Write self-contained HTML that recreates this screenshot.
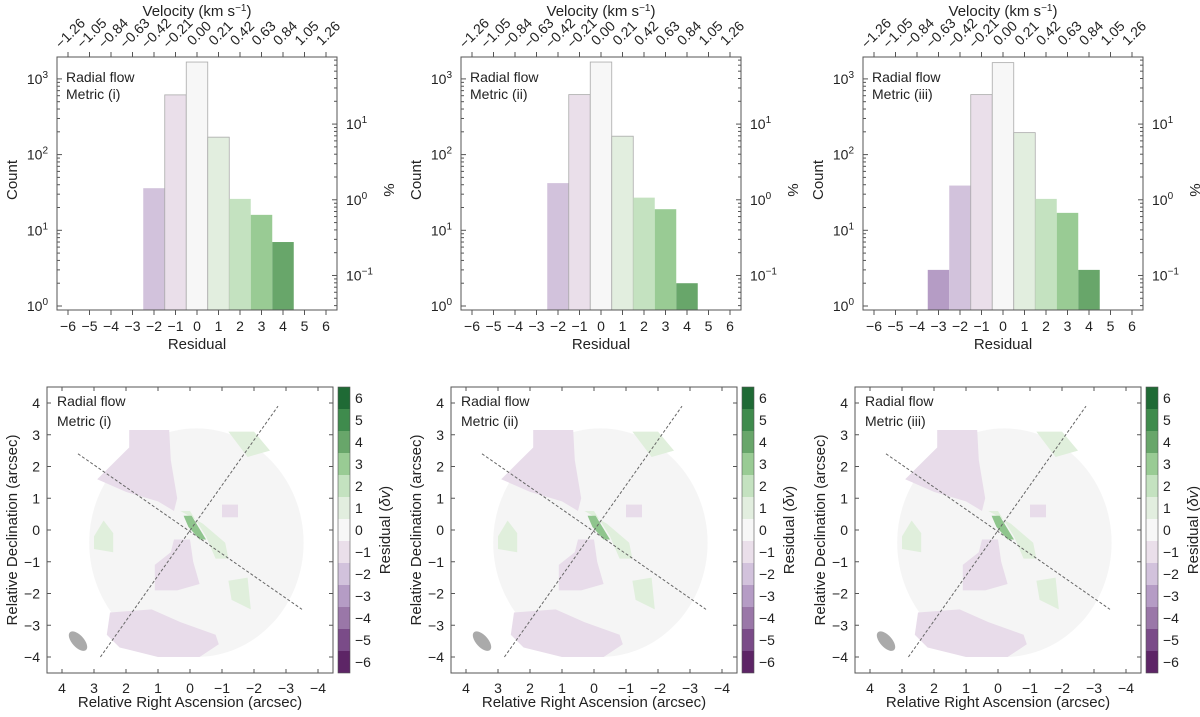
<!DOCTYPE html>
<html><head><meta charset="utf-8"><style>
body{margin:0;background:#fff}
svg{display:block;font-family:"Liberation Sans",sans-serif}
text{fill:#222}
</style></head><body>
<svg id="s" width="1200" height="717" viewBox="0 0 1200 717" xmlns="http://www.w3.org/2000/svg"></svg>
<script>
const residualBins=[-6,-5,-4,-3,-2,-1,0,1,2,3,4,5,6];
const velocityLabels=["−1.26","−1.05","−0.84","−0.63","−0.42","−0.21","0.00","0.21","0.42","0.63","0.84","1.05","1.26"];
const panelTitles=["Metric (i)","Metric (ii)","Metric (iii)"];
const countsI=[0,0,0,0,36,615,1670,170,26,16,7,0,0];
const countsII=[0,0,0,0,42,620,1670,175,27,19,2,0,0];
const countsIII=[0,0,0,3,39,620,1640,195,26,17,3,0,0];
const allCounts=[countsI,countsII,countsIII];
const totalCount=2530;
const colors={"-6":"#5d2566","-5":"#7a4b88","-4":"#9a77a8","-3":"#b59cc5","-2":"#d2c2dc","-1":"#eadfea","0":"#f7f7f7","1":"#e2eedf","2":"#c4e2c0","3":"#99cb94","4":"#68a66a","5":"#3f8b4d","6":"#1f6a35"};
const NS="http://www.w3.org/2000/svg";
const S=document.getElementById('s');
function el(t,a,p){const e=document.createElementNS(NS,t);for(const k in a)e.setAttribute(k,a[k]);(p||S).appendChild(e);return e;}
function txt(x,y,s,a,p){const e=el('text',Object.assign({x:x,y:y,'font-size':14},a||{}),p);e.innerHTML=s;return e;}
const offsets=[0,404,806];
offsets.forEach((ox,pi)=>{
  const g=el('g',{transform:`translate(${ox},0)`});
  
  
  const L=57,R=337,T=57,B=310;
  const xs=v=>197+v*21.5;
  const ys=c=>306-Math.log10(c)*75.7;
  allCounts[pi].forEach((c,i)=>{
    if(c<=0)return;
    const b=residualBins[i];
    const r=el('rect',{x:xs(b-0.5),y:ys(c),width:21.5,height:B-ys(c),fill:colors[b],stroke:(b>=-1&&b<=1)?'#aaa':'none','stroke-width':0.8},g);
    
    
  });
  el('rect',{x:L,y:T,width:R-L,height:B-T,fill:'none',stroke:'#555','stroke-width':1},g);
  residualBins.forEach((b,i)=>{
    el('line',{x1:xs(b),x2:xs(b),y1:B,y2:B+5,stroke:'#555'},g);
    el('line',{x1:xs(b),x2:xs(b),y1:T,y2:T-5,stroke:'#555'},g);
    txt(xs(b),B+21,b<0?'−'+(-b):''+b,{'text-anchor':'middle'},g);
    const cx=xs(b)+2, cy=T-24;
    txt(cx,cy+5,velocityLabels[i],{transform:`rotate(-45 ${cx} ${cy})`,'font-size':14,'text-anchor':'middle'},g);
  });
  for(let d=0;d<=3;d++){
    for(let m=1;m<10;m++){const y=ys(m*Math.pow(10,d));if(y<T)continue;el('line',{x1:L,x2:L+(m==1?5:3),y1:y,y2:y,stroke:'#555'},g);}
    txt(48,ys(Math.pow(10,d))+5,'10<tspan dy="-6" font-size="10">'+d+'</tspan>',{'text-anchor':'end'},g);
  }
  const yp=p=>ys(p/100*totalCount);
  for(let d=-2;d<=1;d++){for(let m=1;m<10;m++){const y=yp(m*Math.pow(10,d));if(y<T||y>B)continue;el('line',{x1:R,x2:R-(m==1?5:3),y1:y,y2:y,stroke:'#555'},g);}}
  [1,0,-1].forEach(d=>txt(346,yp(Math.pow(10,d))+5,'10<tspan dy="-6" font-size="10">'+(d<0?'−'+(-d):d)+'</tspan>',{},g));
  txt(0,0,'Count',{transform:'translate(17,180) rotate(-90)','text-anchor':'middle','font-size':15},g);
  txt(0,0,'%',{transform:'translate(384,190) rotate(90)','text-anchor':'middle','font-size':15},g);
  txt(197,349,'Residual',{'text-anchor':'middle','font-size':15},g);
  txt(197,16,'Velocity (km s<tspan dy="-5" font-size="10">−1</tspan><tspan dy="5">)</tspan>',{'text-anchor':'middle','font-size':15},g);
  txt(66,82,'Radial flow',{},g);txt(66,99,panelTitles[pi],{},g);
});
const blobsPurple=[[[1.9,3.15],[0.65,3.15],[0.6,2.2],[0.4,1.0],[0.5,0.6],[1.0,0.9],[2.0,1.2],[2.9,1.6],[2.3,2.2],[1.9,2.6]],
 [[0.5,-0.3],[0.0,-0.3],[-0.1,-1.0],[-0.3,-1.7],[0.4,-1.9],[1.1,-1.9],[1.1,-1.1],[0.6,-0.7]],
 [[2.5,-2.6],[1.2,-2.5],[0.3,-2.9],[-0.8,-3.3],[-0.9,-3.6],[-0.3,-4.0],[1.0,-4.0],[2.2,-3.7],[2.6,-3.3]],
 [[-1.0,0.8],[-1.5,0.8],[-1.5,0.4],[-1.0,0.4]]];
const blobsGreen=[[[0.3,0.6],[0.0,0.6],[-0.5,-0.2],[-0.8,-0.9],[-1.2,-0.9],[-1.1,-0.4],[-0.4,0.2]],
 [[3.0,-0.2],[2.7,0.3],[2.4,-0.1],[2.4,-0.7],[3.0,-0.6]],[[-1.2,3.1],[-2.0,3.1],[-2.5,2.5],[-1.8,2.3]],
 [[-1.2,-1.6],[-1.8,-1.5],[-1.9,-2.5],[-1.3,-2.2]]];
const blobsGreen3=[[[0.2,0.45],[-0.05,0.45],[-0.5,-0.3],[-0.3,-0.3],[0.05,0.1]]];
offsets.forEach((ox,pi)=>{
  const g=el('g',{transform:`translate(${ox+(pi==2?2:0)},0)`});
  
  
  const L=47,R=333,T=387,B=673;
  const X=v=>190-v*32, Y=v=>530-v*31.75;
  const poly=(pts,f)=>el('polygon',{points:pts.map(q=>X(q[0])+','+Y(q[1])).join(' '),fill:f},g);
  el('ellipse',{cx:X(-0.2),cy:Y(-0.4),rx:3.35*32,ry:3.6*31.75,fill:'#f5f5f5'},g);
  blobsPurple.forEach(b=>poly(b,'#e8dcea'));
  blobsGreen.forEach(b=>poly(b,'#e0efdc'));
  blobsGreen3.forEach(b=>poly(b,'#8fc58d'));
  el('line',{x1:X(3.5),y1:Y(2.4),x2:X(-3.5),y2:Y(-2.5),stroke:'#666','stroke-dasharray':'3,2','stroke-width':1},g);
  el('line',{x1:X(2.8),y1:Y(-4),x2:X(-2.75),y2:Y(3.9),stroke:'#666','stroke-dasharray':'3,2','stroke-width':1},g);
  el('ellipse',{cx:X(3.5),cy:Y(-3.5),rx:12,ry:6,fill:'#aaa',transform:`rotate(48 ${X(3.5)} ${Y(-3.5)})`},g);
  el('rect',{x:L,y:T,width:R-L,height:B-T,fill:'none',stroke:'#555'},g);
  for(let v=-4;v<=4;v++){
    el('line',{x1:X(v),x2:X(v),y1:B,y2:B-4,stroke:'#555'},g);el('line',{x1:X(v),x2:X(v),y1:T,y2:T+4,stroke:'#555'},g);
    el('line',{y1:Y(v),y2:Y(v),x1:L,x2:L+4,stroke:'#555'},g);el('line',{y1:Y(v),y2:Y(v),x1:R,x2:R-4,stroke:'#555'},g);
    txt(X(v),B+20,v<0?'−'+(-v):''+v,{'text-anchor':'middle'},g);
    txt(L-7,Y(v)+5,v<0?'−'+(-v):''+v,{'text-anchor':'end'},g);
  }
  txt(190,707,'Relative Right Ascension (arcsec)',{'text-anchor':'middle','font-size':15},g);
  txt(0,0,'Relative Declination (arcsec)',{transform:'translate(17,530) rotate(-90)','text-anchor':'middle','font-size':15},g);
  txt(57,406,'Radial flow',{},g);txt(57,426,panelTitles[pi],{},g);
  const cb=22;
  residualBins.forEach((b,i)=>{
    const y=T+(12-i)*cb;
    const r=el('rect',{x:338,y:y,width:12,height:cb,fill:colors[b]},g);
    
    
    txt(355,y+cb/2+5,b<0?'−'+(-b):''+b,{},g);
  });
  el('rect',{x:338,y:T,width:12,height:13*cb,fill:'none',stroke:'#555','stroke-width':0.6},g);
  txt(0,0,'Residual (<tspan font-style="italic">δv</tspan>)',{transform:'translate(390,530) rotate(-90)','text-anchor':'middle','font-size':15},g);
});
</script>
</body></html>
